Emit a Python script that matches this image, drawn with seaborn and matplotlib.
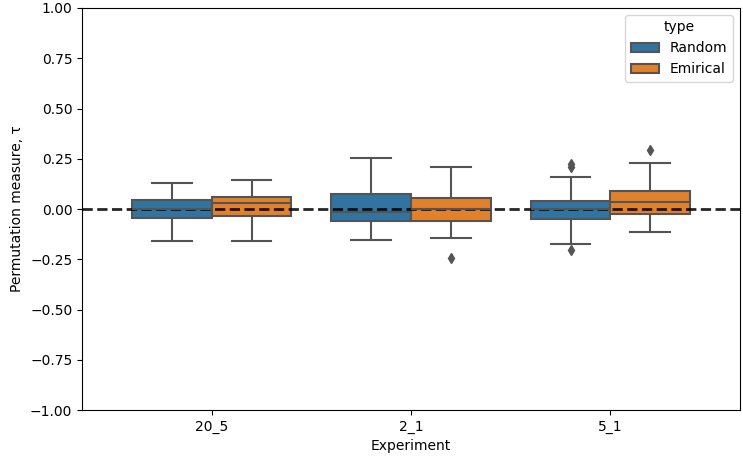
import numpy as np
import pandas as pd
import matplotlib
matplotlib.use("Agg")
import matplotlib.pyplot as plt
import seaborn as sns

experiments = ["20_5", "2_1", "5_1"]
types = ["Random", "Emirical"]

random_20_5 = [-0.157, -0.044, -0.044, -0.044, 0.0, 0.0, 0.0, 0.047, 0.047, 0.047, 0.129]
emirical_20_5 = [-0.157, -0.037, -0.037, -0.037, 0.028, 0.028, 0.028, 0.062, 0.062, 0.062, 0.142]
random_2_1 = [-0.152, -0.062, -0.062, -0.062, -0.016, -0.016, -0.016, 0.076, 0.076, 0.076, 0.255]
emirical_2_1 = [-0.245, -0.146, -0.062, -0.062, -0.062, 0.0, 0.0, 0.0, 0.054, 0.054, 0.054, 0.210]
random_5_1 = [-0.204, -0.176, -0.050, -0.050, -0.050, 0.0, 0.0, 0.0, 0.040, 0.040, 0.040, 0.159, 0.208, 0.225]
emirical_5_1 = [-0.116, -0.027, -0.027, -0.027, 0.037, 0.037, 0.037, 0.092, 0.092, 0.092, 0.230, 0.292]

groups = {
    ("20_5", "Random"): random_20_5,
    ("20_5", "Emirical"): emirical_20_5,
    ("2_1", "Random"): random_2_1,
    ("2_1", "Emirical"): emirical_2_1,
    ("5_1", "Random"): random_5_1,
    ("5_1", "Emirical"): emirical_5_1,
}

rows = []
for (exp, typ), vals in groups.items():
    for v in vals:
        rows.append({"Experiment": exp, "type": typ, "tau": v})
df = pd.DataFrame(rows)

fig = plt.figure(figsize=(7.43, 4.57), dpi=100)
ax = fig.add_axes([0.1104, 0.1028, 0.8856, 0.8797])

gray = "#545454"
sns.boxplot(data=df, x="Experiment", y="tau", hue="type", order=experiments,
            hue_order=types, ax=ax, linecolor=gray, linewidth=1.5,
            flierprops=dict(marker="d", markerfacecolor=gray, markeredgecolor=gray,
                            markersize=5))

ax.axhline(0, color="k", linestyle="--", linewidth=2, alpha=0.85)
ax.set_xlim(-0.65, 2.65)
ax.set_ylim(-1, 1)
ticks = np.arange(-1, 1.01, 0.25)
ax.set_yticks(ticks)
ax.set_yticklabels([f"{t:.2f}".replace("-", "\u2212") for t in ticks])
ax.set_xlabel("Experiment")
ax.set_ylabel("Permutation measure, \u03c4")
ax.legend(title="type", loc="upper right")

fig.savefig("out.png", dpi=100)
